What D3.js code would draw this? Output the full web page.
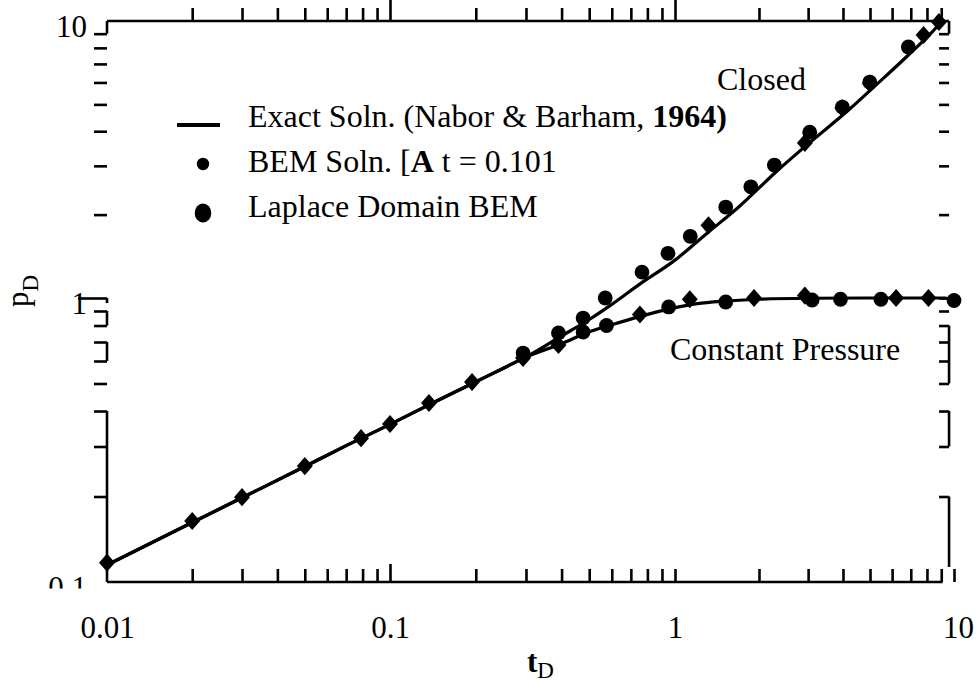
<!DOCTYPE html>
<html><head><meta charset="utf-8">
<script src="https://cdn.jsdelivr.net/npm/d3@7"></script>
<style>
html,body{margin:0;padding:0;background:#fff;}
svg{display:block;}
text{font-family:"Liberation Serif","Times New Roman",Times,serif;fill:#000;}
</style></head><body>
<svg id="chart" width="980" height="683"></svg>
<script>
// Early-time linear-flow response, common to both outer boundaries
const sharedT = [0.01, 0.02, 0.03, 0.05, 0.07, 0.1, 0.15, 0.2, 0.25, 0.3];
const sharedP = [0.1148, 0.162, 0.198, 0.255, 0.302, 0.359, 0.44, 0.507, 0.566, 0.62];
// Exact solution, closed outer boundary
const closedT = [0.4, 0.5, 0.6, 0.75, 1.0, 1.3, 1.7, 2.3, 3.0, 4.2, 5.25, 7.0, 8.7, 9.0];
const closedP = [0.735, 0.84, 0.95, 1.12, 1.37, 1.71, 2.14, 2.85, 3.6, 4.78, 5.87, 7.68, 9.55, 9.95];
// Exact solution, constant-pressure outer boundary
const constT = [0.4, 0.5, 0.6, 0.75, 1.0, 1.2, 1.5, 2.0, 3.0, 5.0, 9.4];
const constP = [0.69, 0.76, 0.805, 0.86, 0.925, 0.955, 0.975, 0.99, 0.998, 1.0, 1.0];
// Time-domain BEM solution (diamonds)
const bemT = [0.01, 0.02, 0.03, 0.05, 0.079, 0.1, 0.137, 0.194, 0.293, 0.39, 0.753, 1.13, 1.318, 1.92, 2.92, 2.92, 3.98, 4.99, 6.2, 7.78, 8.1, 8.83];
const bemP = [0.117, 0.164, 0.199, 0.256, 0.321, 0.36, 0.427, 0.506, 0.615, 0.683, 0.875, 0.99, 1.83, 1.0, 3.63, 1.02, 4.85, 5.95, 1.0, 8.9, 1.0, 9.92];
// Laplace-domain BEM solution (circles)
const lapT = [0.293, 0.39, 0.476, 0.476, 0.569, 0.575, 0.766, 0.945, 0.95, 1.134, 1.52, 1.52, 1.87, 2.27, 3.04, 3.1, 3.92, 3.98, 4.99, 5.47, 6.86, 10];
const lapP = [0.64, 0.753, 0.85, 0.759, 1.0, 0.80, 1.24, 1.45, 0.93, 1.67, 2.13, 0.968, 2.52, 3.02, 3.97, 0.984, 0.99, 4.89, 6.02, 0.99, 8.06, 0.98];
// Axis labelling
const xMajor = [0.01, 0.1, 1, 10];
const xTickLabels = ["0.01", "0.1", "1", "10"];
const yMajor = [0.1, 1, 10];
const yTickLabels = ["0.1", "1", "10"];

const svg = d3.select("#chart");

const x = d3.scaleLog().domain([0.01, 0.1, 1, 10]).range([107, 390, 675, 954]);
const y = d3.scaleLog().domain([0.1, 1, 10]).range([582, 298, 21]);

const minorOf = majors => majors.slice(0, -1).flatMap(b => d3.range(2, 10).map(k => +(k * b).toPrecision(3)));
const xTicks = xMajor.concat(minorOf(xMajor));
const yTicks = yMajor.concat(minorOf(yMajor));
const xLab = d => { const i = xMajor.indexOf(d); return i < 0 ? "" : xTickLabels[i]; };
const yLab = d => { const i = yMajor.indexOf(d); return i < 0 ? "" : yTickLabels[i]; };

const AX = 2.6;
function styleTicks(g, majorSet, minorLen, majorLen, attr) {
  g.select(".domain").remove();
  g.selectAll(".tick line")
    .attr("stroke", "#000").attr("stroke-width", AX)
    .attr(attr, d => (majorSet.includes(d) ? majorLen : minorLen));
}

// bottom axis (ticks inward)
const gB = svg.append("g").attr("transform", `translate(0,${y(0.1)})`)
  .call(d3.axisBottom(x).tickValues(xTicks).tickFormat(xLab).tickSizeOuter(0));
styleTicks(gB, [0.1], -13, -18, "y2");
gB.selectAll(".tick text").attr("y", 56).attr("dy", null)
  .style("font-size", "31px").attr("font-family", null);
gB.selectAll(".tick").filter(d => d === 10).select("text").attr("x", 4);
gB.selectAll(".tick").filter(d => d === 0.01).select("line").remove();

// top axis
const gT = svg.append("g").attr("transform", `translate(0,${y(10)})`)
  .call(d3.axisTop(x).tickValues(xTicks.filter(d => d > 0.01 && d < 10)).tickFormat("").tickSizeOuter(0));
styleTicks(gT, [0.1, 1], -13, -25, "y2");

// left axis
const gL = svg.append("g").attr("transform", `translate(${x(0.01)},0)`)
  .call(d3.axisLeft(y).tickValues(yTicks).tickFormat(yLab).tickSizeOuter(0));
styleTicks(gL, [1], -13, -29, "x2");
gL.selectAll(".tick").filter(d => d === 0.1 || d === 10).select("line").remove();
gL.selectAll(".tick text").attr("x", -20).attr("dy", "0.5em")
  .style("font-size", "31px").attr("font-family", null);
// the lowest label sits under the frame and is cut by it (clip in tick-local space)
svg.append("clipPath").attr("id", "cutLow").append("rect")
  .attr("x", -300).attr("y", -300).attr("width", 1300).attr("height", 306);
gL.selectAll(".tick").filter(d => d === 0.1).attr("clip-path", "url(#cutLow)");

// right axis
const xR = x(9.6);
const gR = svg.append("g").attr("transform", `translate(${xR},0)`)
  .call(d3.axisRight(y).tickValues(yTicks.filter(d => d > 0.1 && d < 10)).tickFormat("").tickSizeOuter(0));
styleTicks(gR, [], -10, -10, "x2");

// frame lines (segments of the border)
const frame = svg.append("g").attr("stroke", "#000").attr("stroke-width", AX).attr("fill", "none");
const hSeg = (v, a, b) => frame.append("line").attr("x1", x(a)).attr("x2", x(b)).attr("y1", y(v)).attr("y2", y(v));
const vSeg = (xp, a, b) => frame.append("line").attr("x1", xp).attr("x2", xp).attr("y1", y(a)).attr("y2", y(b));
hSeg(0.1, 0.01, 9.1);
hSeg(10, 0.01, 9.6);
[[0.1, 0.4], [0.6, 0.7], [0.8, 0.9], [0.96, 1], [9, 10]].forEach(s => vSeg(x(0.01), s[0], s[1]));
[[0.113, 0.2], [0.3, 0.4], [0.5, 0.8], [9, 10]].forEach(s => vSeg(xR, s[0], s[1]));

// exact solutions
const line = d3.line().x(d => x(d[0])).y(d => y(d[1])).curve(d3.curveMonotoneX);
const closedPts = sharedT.concat(closedT).map((t, i) => [t, sharedP.concat(closedP)[i]]);
const constPts = sharedT.concat(constT).map((t, i) => [t, sharedP.concat(constP)[i]]);
svg.append("g").attr("fill", "none").attr("stroke", "#000").attr("stroke-width", 3.2)
  .selectAll("path").data([closedPts, constPts]).join("path").attr("d", line);

// BEM markers
const diamond = d3.symbol().type(d3.symbolDiamond2).size(180)();
svg.append("g").selectAll("path").data(bemT.map((t, i) => [t, bemP[i]])).join("path")
  .attr("d", diamond).attr("transform", d => `translate(${x(d[0])},${y(d[1])}) scale(0.95,1.08)`).attr("fill", "#000");
svg.append("g").selectAll("circle").data(lapT.map((t, i) => [t, lapP[i]])).join("circle")
  .attr("cx", d => x(d[0])).attr("cy", d => y(d[1])).attr("r", 7.4).attr("fill", "#000");

// legend
const leg = svg.append("g");
leg.append("line").attr("x1", 177).attr("x2", 220).attr("y1", 125).attr("y2", 125)
  .attr("stroke", "#000").attr("stroke-width", 4);
leg.append("circle").attr("cx", 203).attr("cy", 164).attr("r", 6.2).attr("fill", "#000");
leg.append("ellipse").attr("cx", 203).attr("cy", 213).attr("rx", 8.3).attr("ry", 9.5).attr("fill", "#000");
const t1 = leg.append("text").attr("x", 248).attr("y", 127).style("font-size", "32px");
t1.append("tspan").text("Exact Soln. (Nabor & Barham, ");
t1.append("tspan").attr("font-weight", "bold").text("1964)");
const t2 = leg.append("text").attr("x", 248).attr("y", 172).style("font-size", "32px");
t2.append("tspan").text("BEM Soln. [");
t2.append("tspan").attr("font-weight", "bold").text("A");
t2.append("tspan").text(" t = 0.101");
leg.append("text").attr("x", 248).attr("y", 217).style("font-size", "32px").text("Laplace Domain BEM");

// curve labels
svg.append("text").attr("x", 717).attr("y", 90).style("font-size", "32px").text("Closed");
svg.append("text").attr("x", 670).attr("y", 360).style("font-size", "32px").text("Constant Pressure");

// axis titles
const xt = svg.append("text").attr("x", 527).attr("y", 672).style("font-size", "31px");
xt.append("tspan").attr("font-weight", "bold").text("t");
xt.append("tspan").attr("dy", 6).style("font-size", "23px").text("D");
const yt = svg.append("text").attr("transform", "translate(28,307) rotate(-90)").style("font-size", "31px");
yt.append("tspan").text("p");
yt.append("tspan").attr("dy", 10).style("font-size", "23px").text("D");
</script>
</body></html>
